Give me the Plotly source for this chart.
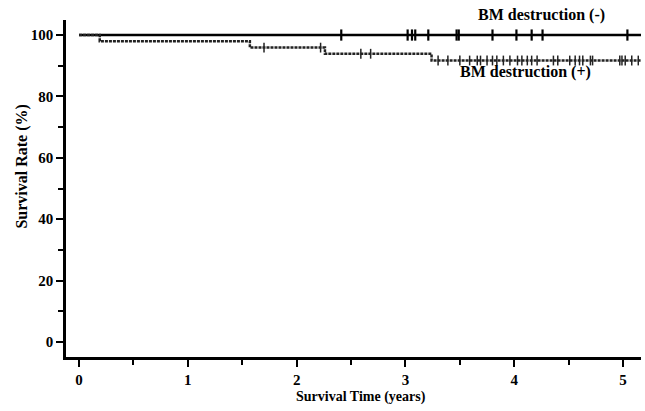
import plotly.graph_objects as go

# BM destruction (-): no events, stays at 100%
neg_time = [0.0, 5.17]
neg_surv = [100, 100]
neg_censor = [2.41, 3.02, 3.06, 3.09, 3.21, 3.47, 3.49, 3.80, 4.02, 4.16, 4.26, 5.04]

# BM destruction (+): step curve
pos_time = [0.0, 0.19, 1.57, 2.26, 3.24, 5.17]
pos_surv = [100, 98.0, 95.9, 93.9, 91.7, 91.7]
pos_censor = [1.70, 2.22, 2.59, 2.68, 3.30, 3.39, 3.50, 3.59, 3.66, 3.69, 3.75, 3.80,
              3.84, 3.90, 3.96, 4.03, 4.07, 4.12, 4.16, 4.21, 4.36, 4.40, 4.51,
              4.56, 4.60, 4.63, 4.70, 4.72, 4.97, 4.99, 5.02, 5.08, 5.14]

x_ticks = [0, 1, 2, 3, 4, 5]
y_ticks = [0, 20, 40, 60, 80, 100]


def surv_at(t, times, survs):
    s = survs[0]
    for ti, si in zip(times, survs):
        if ti <= t:
            s = si
    return s


fig = go.Figure()

fig.add_trace(go.Scatter(
    x=neg_time, y=neg_surv, mode="lines", line_shape="hv",
    line=dict(color="black", width=2.5), showlegend=False, hoverinfo="skip"))
fig.add_trace(go.Scatter(
    x=neg_censor, y=[surv_at(t, neg_time, neg_surv) for t in neg_censor],
    mode="markers", marker=dict(symbol="line-ns", size=8, line=dict(color="black", width=2.2)),
    showlegend=False))

fig.add_trace(go.Scatter(
    x=pos_time, y=pos_surv, mode="lines", line_shape="hv",
    line=dict(color="#222222", width=2.5, dash="3px,1px"), showlegend=False))
fig.add_trace(go.Scatter(
    x=pos_censor, y=[surv_at(t, pos_time, pos_surv) for t in pos_censor],
    mode="markers", marker=dict(symbol="line-ns", size=7, line=dict(color="#222222", width=1.5)),
    showlegend=False))

serif = "Liberation Serif"

fig.add_annotation(x=4.25, yref="paper", y=1.015, text="BM destruction (-)", showarrow=False,
                   font=dict(family=serif, size=16, color="black", weight="bold"),
                   xanchor="center", yanchor="middle")
fig.add_annotation(x=4.1, y=88.0, text="BM destruction (+)", showarrow=False,
                   font=dict(family=serif, size=16, color="black", weight="bold"),
                   xanchor="center", yanchor="middle")

# axis titles
fig.add_annotation(xref="paper", yref="paper", x=0.513, y=-0.119,
                   text="Survival Time (years)", showarrow=False,
                   font=dict(family=serif, size=14, color="black", weight="bold"),
                   xanchor="center", yanchor="middle")
fig.add_annotation(xref="paper", yref="paper", x=-0.0765, y=0.565,
                   text="Survival Rate (%)", showarrow=False, textangle=-90,
                   font=dict(family=serif, size=16, color="black", weight="bold"),
                   xanchor="center", yanchor="middle")

fig.update_layout(
    width=645, height=411,
    margin=dict(l=66, r=4, t=20, b=54),
    plot_bgcolor="white", paper_bgcolor="white",
    font=dict(family=serif, color="black"),
)
fig.update_xaxes(
    range=[-0.12, 5.165], tickvals=x_ticks, ticktext=[str(v) for v in x_ticks],
    showline=True, linecolor="black", linewidth=2.5, showgrid=False, zeroline=False,
    ticks="outside", ticklen=7, tickwidth=2, tickcolor="black",
    minor=dict(dtick=0.5, tick0=0, ticks="outside", ticklen=5, tickwidth=2, tickcolor="black", showgrid=False),
    tickfont=dict(family=serif, size=15, color="black", weight="bold"),
)
fig.update_yaxes(
    range=[-4.9, 104.9], tickvals=y_ticks, ticktext=[str(v) for v in y_ticks],
    showline=True, linecolor="black", linewidth=2.5, showgrid=False, zeroline=False,
    ticks="outside", ticklen=7, tickwidth=2, tickcolor="black",
    minor=dict(dtick=10, tick0=0, ticks="outside", ticklen=5, tickwidth=2, tickcolor="black", showgrid=False),
    tickfont=dict(family=serif, size=15, color="black", weight="bold"),
)

fig.write_html("out.html", config={"displayModeBar": False},
               post_script="document.body.style.margin='0';")
